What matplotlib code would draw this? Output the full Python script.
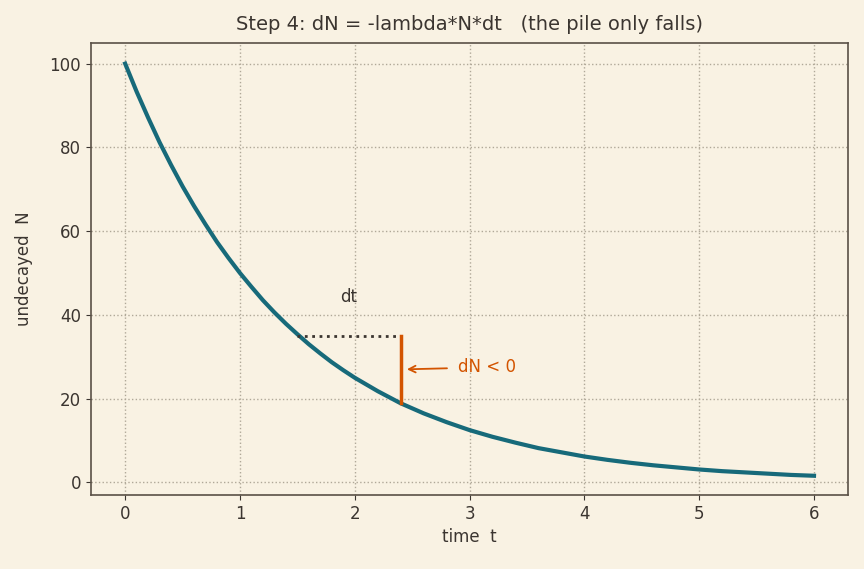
import matplotlib
matplotlib.use("Agg")
import matplotlib.pyplot as plt

# undecayed pile N (half-life of about 1)
t = [0.0, 0.1, 0.2, 0.3, 0.4, 0.5, 0.6, 0.7, 0.8, 0.9, 1.0, 1.1, 1.2, 1.3, 1.4, 1.5,
     1.6, 1.7, 1.8, 1.9, 2.0, 2.2, 2.4, 2.6, 2.8, 3.0, 3.2, 3.4, 3.6, 3.8, 4.0,
     4.2, 4.4, 4.6, 4.8, 5.0, 5.2, 5.4, 5.6, 5.8, 6.0]
N = [100.0, 93.3, 87.1, 81.2, 75.8, 70.7, 66.0, 61.6, 57.4, 53.6, 50.0, 46.7, 43.5, 40.6, 37.9, 35.4,
     33.0, 30.8, 28.7, 26.8, 25.0, 21.8, 18.9, 16.5, 14.4, 12.5, 10.9, 9.5, 8.2, 7.2, 6.2,
     5.4, 4.7, 4.1, 3.6, 3.1, 2.7, 2.4, 2.1, 1.8, 1.6]

# the dt / dN step
dt_start = 1.5
dt_end = 2.4
N_top = 35.0
N_bottom = 18.9

bg = "#f9f2e3"
ink = "#3b3530"
teal = "#176a7a"
orange = "#d35400"

fig, ax = plt.subplots(figsize=(8.64, 5.69), dpi=100)
fig.patch.set_facecolor(bg)
ax.set_facecolor(bg)

ax.plot(t, N, color=teal, lw=3)

# dt step and the drop dN
ax.plot([dt_start, dt_end], [N_top, N_top], color=ink, ls=":", lw=2)
ax.plot([dt_end, dt_end], [N_top, N_bottom], color=orange, lw=2.5)
ax.text(1.95, 43, "dt", color=ink, fontsize=12, ha="center")
ax.annotate("dN < 0", xy=(dt_end + 0.03, 27), xytext=(2.9, 27.5),
            color=orange, fontsize=12, va="center",
            arrowprops=dict(arrowstyle="->", color=orange, lw=1.3, shrinkA=6))

ax.set_xlim(-0.3, 6.3)
ax.set_ylim(-3, 105)
ax.grid(True, ls=":", color="#b0a898", lw=1)
ax.set_title("Step 4: dN = -lambda*N*dt   (the pile only falls)", color=ink, fontsize=14, pad=9)
ax.set_xlabel("time  t", color=ink, fontsize=12)
ax.set_ylabel("undecayed  N", color=ink, fontsize=12, labelpad=12)
ax.tick_params(colors=ink, labelsize=12)
for s in ax.spines.values():
    s.set_color("#5a5046")
    s.set_linewidth(1.2)

plt.subplots_adjust(left=0.105, right=0.982, top=0.925, bottom=0.13)
plt.savefig("out.png", dpi=100, facecolor=bg)
